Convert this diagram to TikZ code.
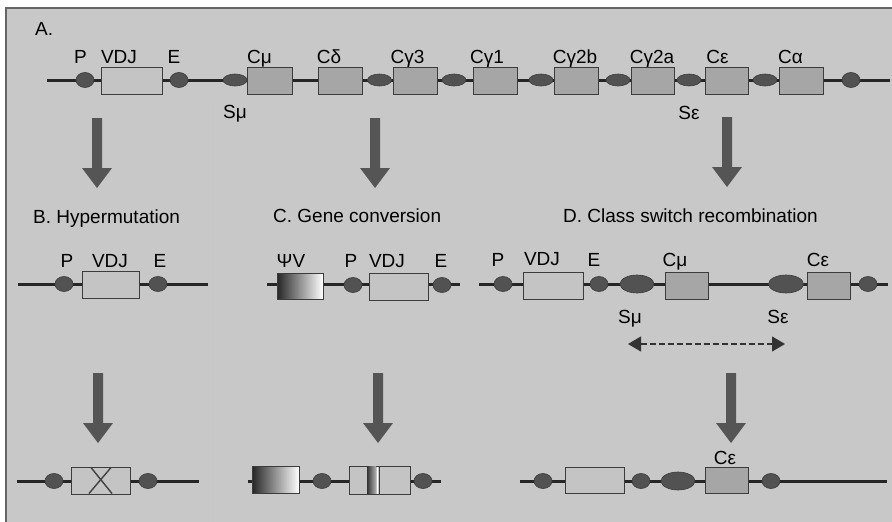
\documentclass[tikz,border=0pt]{standalone}
\usepackage{fontspec}
\setmainfont{Liberation Sans}
\usetikzlibrary{arrows.meta,shapes.geometric}
\definecolor{bggray}{HTML}{C8C8C8}
\definecolor{vdjgray}{HTML}{C4C4C4}
\definecolor{cgray}{HTML}{A6A6A6}
\definecolor{dotgray}{HTML}{525252}
\definecolor{arrowgray}{HTML}{555555}
\definecolor{edgegray}{HTML}{3C3C3C}
\tikzset{
  dna/.style={line width=3pt,black!85},
  lbl/.style={font=\fontsize{19}{22}\selectfont,inner sep=0pt,anchor=base},
  title/.style={font=\fontsize{19}{22}\selectfont,inner sep=0pt,anchor=base west},
  dot/.style={ellipse,fill=dotgray,draw=edgegray,line width=0.6pt,minimum width=18pt,minimum height=15pt,inner sep=0pt},
  sw/.style={ellipse,fill=dotgray,draw=edgegray,line width=0.6pt,minimum width=24pt,minimum height=12pt,inner sep=0pt},
  bigsw/.style={ellipse,fill=dotgray,draw=edgegray,line width=0.6pt,minimum width=34pt,minimum height=18pt,inner sep=0pt},
  vdjbox/.style={rectangle,fill=vdjgray,draw=edgegray,line width=0.7pt,minimum height=27pt,inner sep=0pt},
  cbox/.style={rectangle,fill=cgray,draw=edgegray,line width=0.7pt,minimum width=44pt,minimum height=27pt,inner sep=0pt},
  psibox/.style={rectangle,left color=black!85,right color=white,draw=edgegray,line width=0.7pt,minimum height=26pt,inner sep=0pt},
  bigarrow/.pic={\fill[arrowgray] (-5,0) -- (5,0) -- (5,50) -- (15,50) -- (0,70) -- (-15,50) -- (-5,50) -- cycle;},
  dasharrow/.style={dash pattern=on 6pt off 3pt,line width=1.1pt,black!80,{Triangle[length=13pt,width=15pt]}-{Triangle[length=13pt,width=15pt]}}
}
\begin{document}
\begin{tikzpicture}[x=1pt,y=-1pt]
\useasboundingbox (0,0) rectangle (892,522);
\fill[white] (0,0) rectangle (892,522);
\fill[bggray] (6,8) rectangle (892,522);
\draw[black!60,line width=1.2pt] (6,522) -- (6,8) -- (892,8);
\draw[black!22,line width=0.5pt] (213,100) -- (213,522);

% ---------- A ----------
\node[title] (tA) at (35,35) {A.};
\coordinate (a0) at (47,80);
\coordinate (a1) at (890,80);
\draw[dna] (a0) -- (a1);
\node[dot] (aP) at (85,80) {};
\node[vdjbox,minimum width=61pt] (aVDJ) at (131.5,80.5) {};
\node[dot] (aE) at (179,80) {};
\node[sw] (aSm) at (235,80) {};
\node[cbox,minimum width=45pt] (aCm) at (269.5,80.5) {};
\node[cbox] (aCd) at (340,80.5) {};
\node[sw] (aS3) at (379.5,80) {};
\node[cbox] (aCg3) at (415,80.5) {};
\node[sw] (aS1) at (454,80) {};
\node[cbox] (aCg1) at (495,80.5) {};
\node[sw] (aS2b) at (541,80) {};
\node[cbox] (aCg2b) at (576,80.5) {};
\node[sw] (aS2a) at (618,80) {};
\node[cbox,minimum width=43pt] (aCg2a) at (652.5,80.5) {};
\node[sw] (aSe) at (689,80) {};
\node[cbox,minimum width=43pt] (aCe) at (726.5,80.5) {};
\node[sw] (aSa) at (765,80) {};
\node[cbox] (aCa) at (801,80.5) {};
\node[dot] (aEnd) at (851,80) {};

\node[lbl] (laP) at (80.5,63) {P};
\node[lbl] (laVDJ) at (119,63) {VDJ};
\node[lbl] (laE) at (174,63) {E};
\node[lbl] (laCm) at (259.5,63) {Cμ};
\node[lbl] (laCd) at (329,63) {Cδ};
\node[lbl] (laCg3) at (407.5,63) {Cγ3};
\node[lbl] (laCg1) at (487,63) {Cγ1};
\node[lbl] (laCg2b) at (575,63) {Cγ2b};
\node[lbl] (laCg2a) at (652,63) {Cγ2a};
\node[lbl] (laCe) at (717.5,63) {Cε};
\node[lbl] (laCa) at (790.5,63) {Cα};
\node[lbl] (laSm) at (235,118) {Sμ};
\node[lbl] (laSe) at (689,119) {Sε};

\pic at (97,118) {bigarrow};
\pic at (375,118) {bigarrow};
\pic at (727,117) {bigarrow};

\node[title] (tB) at (33,223) {B. Hypermutation};
\node[title] (tC) at (273,222) {C. Gene conversion};
\node[title] (tD) at (563,222) {D. Class switch recombination};

% ---------- B ----------
\coordinate (b0) at (18,284);
\coordinate (b1) at (208,284);
\draw[dna] (b0) -- (b1);
\node[dot] (bP) at (64,284) {};
\node[vdjbox,minimum width=57pt] (bVDJ) at (110.5,284.5) {};
\node[dot] (bE) at (158,284) {};
\node[lbl] (lbP) at (67,267) {P};
\node[lbl] (lbVDJ) at (110,267) {VDJ};
\node[lbl] (lbE) at (160,267) {E};

% ---------- C ----------
\coordinate (c0) at (267,284);
\coordinate (c1) at (460,284);
\draw[dna] (c0) -- (c1);
\node[psibox,minimum width=46pt] (cPsi) at (300,286) {};
\node[dot] (cP) at (353,285) {};
\node[vdjbox,minimum width=59pt] (cVDJ) at (398.5,286.5) {};
\node[dot] (cE) at (442,285) {};
\node[lbl] (lcPsi) at (291,267) {ΨV};
\node[lbl] (lcP) at (351,267) {P};
\node[lbl] (lcVDJ) at (387,267) {VDJ};
\node[lbl] (lcE) at (441,267) {E};

% ---------- D ----------
\coordinate (d0) at (479,284);
\coordinate (d1) at (888,284);
\draw[dna] (d0) -- (d1);
\node[dot] (dP) at (503,284) {};
\node[vdjbox,minimum width=60pt] (dVDJ) at (553,285.5) {};
\node[dot] (dE) at (599,284) {};
\node[bigsw] (dSm) at (637,284) {};
\node[cbox,minimum width=43pt] (dCm) at (686.5,285.5) {};
\node[bigsw,minimum width=35pt] (dSe) at (786,284) {};
\node[cbox,minimum width=43pt] (dCe) at (828.5,285.5) {};
\node[dot] (dEnd) at (868,284) {};
\node[lbl] (ldP) at (498,266) {P};
\node[lbl] (ldVDJ) at (542,265) {VDJ};
\node[lbl] (ldE) at (594,266) {E};
\node[lbl] (ldCm) at (675,266) {Cμ};
\node[lbl] (ldCe) at (818,266) {Cε};
\node[lbl] (ldSm) at (630,323) {Sμ};
\node[lbl] (ldSe) at (778,323) {Sε};
\coordinate (dL) at (628,344);
\coordinate (dR) at (785,344);
\draw[dasharrow] (dL) -- (dR);

\pic at (98,373) {bigarrow};
\pic at (378,373) {bigarrow};
\pic at (731,373) {bigarrow};

% ---------- bottom B ----------
\coordinate (e0) at (17,481);
\coordinate (e1) at (199,481);
\draw[dna] (e0) -- (e1);
\node[dot] (eP) at (54,481) {};
\node[vdjbox,minimum width=59pt] (eVDJ) at (100.5,480.5) {};
\node[dot] (eE) at (148,481) {};
\draw[black!75,line width=1.4pt] (91,467.5) -- (112,493.5);
\draw[black!75,line width=1.4pt] (111,467.5) -- (89,493.5);

% ---------- bottom C ----------
\coordinate (f0) at (248,481);
\coordinate (f1) at (441,481);
\draw[dna] (f0) -- (f1);
\node[psibox,minimum width=47pt,minimum height=27pt] (fPsi) at (275.5,479.5) {};
\node[dot] (fP) at (322,481) {};
\node[vdjbox,minimum width=61pt,minimum height=28pt] (fVDJ) at (379.5,480) {};
\node[rectangle,left color=black!80,right color=black!30,minimum width=9pt,minimum height=27pt,inner sep=0pt] (fIns) at (371.5,480) {};
\draw[white,line width=1pt] (377.5,466.5) -- (377.5,493.5);
\draw[edgegray,line width=0.6pt] (378.8,466.5) -- (378.8,493.5);
\node[dot] (fE) at (423,481) {};

% ---------- bottom D ----------
\coordinate (g0) at (520,481);
\coordinate (g1) at (887,481);
\draw[dna] (g0) -- (g1);
\node[dot] (gP) at (543,481) {};
\node[vdjbox,minimum width=59pt,minimum height=26pt] (gVDJ) at (594.5,480) {};
\node[dot] (gE) at (641,481) {};
\node[bigsw] (gS) at (678,481) {};
\node[cbox,minimum width=43pt,minimum height=26pt] (gCe) at (726.5,480) {};
\node[dot] (gEnd) at (771,481) {};
\node[lbl] (lgCe) at (725,464) {Cε};
\end{tikzpicture}
\end{document}
